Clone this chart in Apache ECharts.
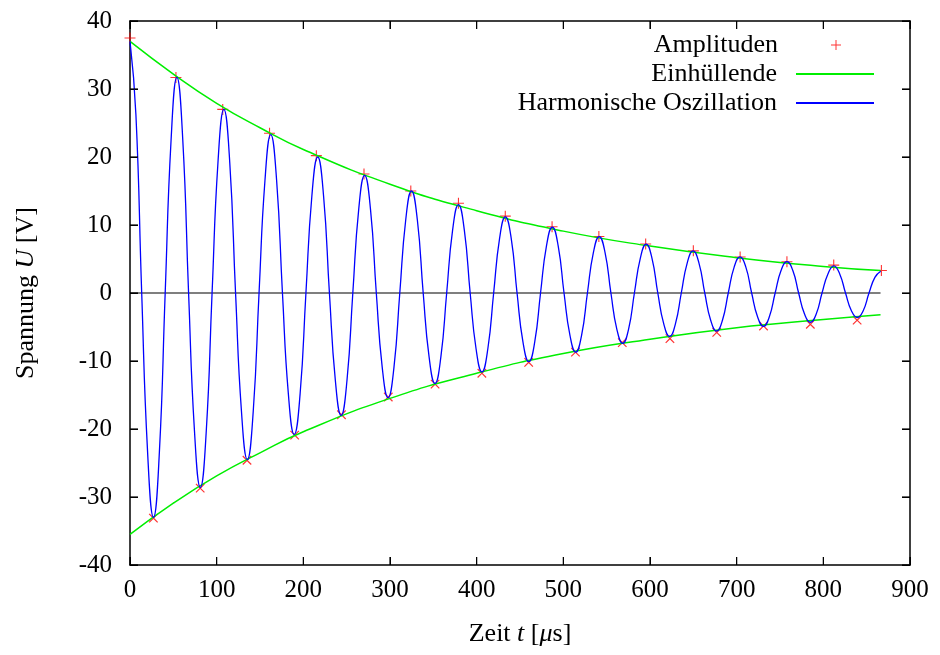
<!DOCTYPE html>
<html>
<head>
<meta charset="utf-8">
<script src="https://cdn.jsdelivr.net/npm/echarts@6/dist/echarts.min.js"></script>
<style>html,body{margin:0;padding:0;background:#fff}#c{width:940px;height:655px}</style>
</head>
<body>
<div id="c"></div>
<script>
// ---- data ----
const xTicks = [0, 100, 200, 300, 400, 500, 600, 700, 800, 900];
const yTicks = [-40, -30, -20, -10, 0, 10, 20, 30, 40];

// red "+" amplitudes (maxima)
const ampUpT = [0, 53, 107, 161, 215, 270, 324, 379, 433, 487, 541, 595, 650, 704, 758, 812, 867];
const ampUpU = [37.5, 31.7, 27.0, 23.5, 20.2, 17.5, 15.0, 13.2, 11.3, 9.75, 8.3, 7.2, 6.2, 5.3, 4.6, 4.1, 3.3];
// red "x" amplitudes (minima)
const ampLowT = [27, 81, 135, 190, 244, 298, 352, 406, 460, 514, 568, 623, 677, 731, 785, 839];
const ampLowU = [-33.1, -28.7, -24.6, -20.9, -17.9, -15.3, -13.4, -11.8, -10.2, -8.7, -7.3, -6.7, -5.8, -4.85, -4.6, -4.0];

// green envelopes
const envT = [0, 50, 100, 150, 200, 300, 400, 500, 600, 700, 800, 866];
const envUpper = [37.0, 32.2, 27.9, 24.3, 21.1, 16.0, 12.1, 9.1, 6.9, 5.2, 3.9, 3.3];
const envLower = [-35.5, -30.9, -26.9, -23.5, -20.4, -15.5, -11.8, -8.9, -6.8, -5.1, -3.9, -3.2];

// blue harmonic oscillation
const oscillation = [
  [0,37.0],[6.8,26.3],[13.5,0],[20.3,-23.4],
  [27.1,-33.0],[33.9,-23.4],[40.6,0],[47.4,22.5],
  [54.1,31.7],[60.9,22.5],[67.6,0],[74.4,-20.3],
  [81.2,-28.6],[88.0,-20.3],[94.7,0],[101.5,19.2],
  [108.3,27.0],[115.1,19.2],[121.8,0],[128.6,-17.4],
  [135.4,-24.5],[142.2,-17.4],[148.9,0],[155.7,16.5],
  [162.4,23.3],[169.2,16.5],[175.9,0],[182.7,-14.8],
  [189.5,-20.8],[196.3,-14.8],[203.0,0],[209.8,14.2],
  [216.6,20.0],[223.4,14.2],[230.1,0],[236.9,-12.8],
  [243.6,-18.0],[250.4,-12.8],[257.1,0],[263.9,12.3],
  [270.7,17.3],[277.5,12.3],[284.2,0],[291.0,-10.9],
  [297.8,-15.4],[304.6,-10.9],[311.3,0],[318.1,10.7],
  [324.8,15.0],[331.6,10.7],[338.3,0],[345.1,-9.4],
  [351.9,-13.3],[358.7,-9.4],[365.4,0],[372.2,9.2],
  [379.0,13.0],[385.8,9.2],[392.5,0],[399.3,-8.2],
  [406.1,-11.6],[412.9,-8.2],[419.6,0],[426.4,8.0],
  [433.1,11.2],[439.9,8.0],[446.6,0],[453.4,-7.2],
  [460.2,-10.1],[467.0,-7.2],[473.7,0],[480.5,6.9],
  [487.3,9.7],[494.1,6.9],[500.8,0],[507.6,-6.2],
  [514.3,-8.7],[521.1,-6.2],[527.8,0],[534.6,5.9],
  [541.4,8.3],[548.2,5.9],[554.9,0],[561.7,-5.3],
  [568.5,-7.4],[575.3,-5.3],[582.0,0],[588.8,5.1],
  [595.5,7.2],[602.3,5.1],[609.0,0],[615.8,-4.5],
  [622.6,-6.4],[629.4,-4.5],[636.1,0],[642.9,4.4],
  [649.7,6.2],[656.5,4.4],[663.2,0],[670.0,-4.0],
  [676.8,-5.6],[683.6,-4.0],[690.3,0],[697.1,3.8],
  [703.8,5.3],[710.6,3.8],[717.3,0],[724.1,-3.5],
  [730.9,-4.9],[737.7,-3.5],[744.4,0],[751.2,3.3],
  [758.0,4.6],[764.8,3.3],[771.5,0],[778.3,-3.1],
  [785.0,-4.3],[791.8,-3.1],[798.5,0],[805.3,2.8],
  [812.1,4.0],[818.9,2.8],[825.6,0],[832.4,-2.6],
  [839.2,-3.6],[846.0,-2.6],[852.7,0],[859.5,2.3],
  [866.2,3.2]
];
// black zero line
const zeroLineT = [0, 866];
const zeroLineU = [0, 0];

const legendNames = ['Amplituden', 'Einhüllende', 'Harmonische Oszillation'];

// ---- chart ----
const FONT = 'Liberation Serif';
const zip = (a, b) => a.map((v, i) => [v, b[i]]);
const plusPath = 'path://M4.5,0H5.5V4.5H10V5.5H5.5V10H4.5V5.5H0V4.5H4.5Z';
const yMin = yTicks[0], yMax = yTicks[yTicks.length - 1], yStep = yTicks[1] - yTicks[0];
const xMin = xTicks[0], xMax = xTicks[xTicks.length - 1], xStep = xTicks[1] - xTicks[0];
const TICK_LEN = 8;

const tick = () => ({ show: true, inside: true, length: TICK_LEN, lineStyle: { color: '#000' } });
const aLine = () => ({ show: true, onZero: false, lineStyle: { color: '#000', width: 1.5 } });
const legendText = (pr) => ({ fontFamily: FONT, fontSize: 26, color: '#000', padding: [0, pr, 0, 0] });
const richName = () => ({ a: { fontFamily: FONT, fontSize: 26, color: '#000' }, i: { fontFamily: FONT, fontSize: 26, fontStyle: 'italic', color: '#000' } });
const tickLine = (x1, y1, x2, y2) => ({ type: 'line', shape: { x1, y1, x2, y2 }, style: { stroke: '#000', lineWidth: 1.2 } });

const chart = echarts.init(document.getElementById('c'), null, { renderer: 'canvas' });
chart.setOption({
  animation: false,
  backgroundColor: '#fff',
  grid: { left: 130, right: 30, top: 21, bottom: 90 },
  legend: [
    {
      data: [legendNames[0]], orient: 'vertical', right: 99, top: 32, align: 'right',
      itemWidth: 10, itemHeight: 10, padding: 0, selectedMode: false,
      textStyle: legendText(48)
    },
    {
      data: [legendNames[1]], orient: 'vertical', right: 65, top: 61, align: 'right',
      itemWidth: 78, itemHeight: 10, padding: 0, selectedMode: false,
      itemStyle: { opacity: 0 }, textStyle: legendText(14)
    },
    {
      data: [legendNames[2]], orient: 'vertical', right: 65, top: 90, align: 'right',
      itemWidth: 78, itemHeight: 10, padding: 0, selectedMode: false,
      itemStyle: { opacity: 0 }, textStyle: legendText(14)
    }
  ],
  xAxis: [
    {
      type: 'value', min: xMin, max: xMax, interval: xStep, position: 'bottom',
      axisLine: aLine(), axisTick: tick(), splitLine: { show: false },
      name: '{a|Zeit }{i|t}{a| [}{i|μ}{a|s]}',
      nameLocation: 'middle', nameGap: 56, nameTextStyle: { rich: richName() },
      axisLabel: { fontFamily: FONT, fontSize: 25, color: '#000', margin: 13 }
    },
    {
      type: 'value', min: xMin, max: xMax, interval: xStep, position: 'top',
      axisLabel: { show: false }, axisLine: aLine(), axisTick: tick(), splitLine: { show: false }
    }
  ],
  yAxis: [
    {
      type: 'value', min: yMin, max: yMax, interval: yStep, position: 'left',
      axisLine: aLine(), axisTick: tick(), splitLine: { show: false },
      name: '{a|Spannung }{i|U}{a| [V]}',
      nameLocation: 'middle', nameGap: 91, nameRotate: 90, nameTextStyle: { rich: richName() },
      axisLabel: { fontFamily: FONT, fontSize: 25, color: '#000', margin: 18 }
    },
    {
      type: 'value', min: yMin, max: yMax, interval: yStep, position: 'right',
      axisLabel: { show: false }, axisLine: aLine(), axisTick: tick(), splitLine: { show: false }
    }
  ],
  series: [
    {
      name: 'zero', type: 'line', data: zip(zeroLineT, zeroLineU), symbol: 'none',
      lineStyle: { color: '#000', width: 1.2 }, silent: true
    },
    {
      name: legendNames[0], type: 'scatter', data: zip(ampUpT, ampUpU),
      symbol: plusPath, symbolSize: 11, symbolKeepAspect: true,
      itemStyle: { color: '#ff0000' }
    },
    {
      name: 'AmplitudenMin', type: 'scatter', data: zip(ampLowT, ampLowU),
      symbol: plusPath, symbolSize: 12, symbolRotate: 45, symbolKeepAspect: true,
      itemStyle: { color: '#ff0000' }
    },
    {
      name: legendNames[1], type: 'line', data: zip(envT, envUpper), smooth: true, symbol: 'none',
      lineStyle: { color: '#00ee00', width: 1.5 }, itemStyle: { color: '#00ee00' }
    },
    {
      name: legendNames[1], type: 'line', data: zip(envT, envLower), smooth: true, symbol: 'none',
      lineStyle: { color: '#00ee00', width: 1.5 }, itemStyle: { color: '#00ee00' }
    },
    {
      name: legendNames[2], type: 'line', data: oscillation, smooth: true, symbol: 'none',
      lineStyle: { color: '#0000ff', width: 1.3 }, itemStyle: { color: '#0000ff' }
    },
    {
      // mirrored inward tick marks on bottom and top borders, placed by the x scale
      name: 'xTickMarks', type: 'custom', coordinateSystem: 'cartesian2d', silent: true, clip: false, z: 10,
      data: xTicks.map(v => [v, yMin]),
      renderItem: (params, api) => {
        const b = api.coord([api.value(0), yMin]);
        const t = api.coord([api.value(0), yMax]);
        return { type: 'group', children: [
          tickLine(b[0], b[1], b[0], b[1] - TICK_LEN),
          tickLine(t[0], t[1], t[0], t[1] + TICK_LEN)
        ] };
      }
    },
    {
      // mirrored inward tick marks on left and right borders, placed by the y scale
      name: 'yTickMarks', type: 'custom', coordinateSystem: 'cartesian2d', silent: true, clip: false, z: 10,
      data: yTicks.map(v => [xMin, v]),
      renderItem: (params, api) => {
        const l = api.coord([xMin, api.value(1)]);
        const r = api.coord([xMax, api.value(1)]);
        return { type: 'group', children: [
          tickLine(l[0], l[1], l[0] + TICK_LEN, l[1]),
          tickLine(r[0], r[1], r[0] - TICK_LEN, r[1])
        ] };
      }
    }
  ]
});
</script>
</body>
</html>
